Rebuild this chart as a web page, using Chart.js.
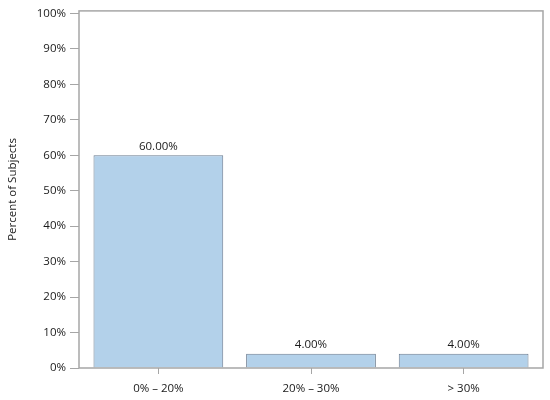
<!DOCTYPE html>
<html>
<head>
<meta charset="utf-8">
<script src="https://cdn.jsdelivr.net/npm/chart.js@4"></script>
<style>
  html, body { margin: 0; padding: 0; background: #fff; }
  #wrap { width: 550px; height: 400px; }
</style>
</head>
<body>
<div id="wrap"><canvas id="chart" width="550" height="400"></canvas></div>
<script>
// ---- data ----
const categories = ["0% \u2013 20%", "20% \u2013 30%", "> 30%"];
const percentValues = [60, 4, 4];
const yTicks = [0, 10, 20, 30, 40, 50, 60, 70, 80, 90, 100];

const FONT = "'Open Sans', 'Noto Sans', sans-serif";
const AXIS_GRAY = "#a6a6a6";
const TEXT = "#1a1a1a";

// box around plot area + value labels above bars
const boxAndLabels = {
    id: "boxAndLabels",
    afterDatasetsDraw(chart) {
        const ctx = chart.ctx;
        const a = chart.chartArea;
        ctx.save();
        ctx.strokeStyle = AXIS_GRAY;
        ctx.lineWidth = 1.5;
        ctx.strokeRect(a.left, a.top, a.right - a.left, a.bottom - a.top);

        ctx.fillStyle = TEXT;
        ctx.font = "11.5px " + FONT;
        ctx.textAlign = "center";
        ctx.textBaseline = "bottom";
        chart.getDatasetMeta(0).data.forEach((bar, i) => {
            ctx.fillText(percentValues[i].toFixed(2) + "%", bar.x, bar.y - 3);
        });
        ctx.restore();
    }
};

new Chart(document.getElementById("chart"), {
    type: "bar",
    data: {
        datasets: [{
            data: percentValues.map((v, i) => ({ x: i, y: v })),
            backgroundColor: "#b3d1ea",
            borderColor: "#6b7c90",
            borderWidth: 1,
            categoryPercentage: 0.85,
            barPercentage: 1.0
        }]
    },
    options: {
        responsive: false,
        animation: false,
        layout: { padding: { left: 0, right: 7, top: 10, bottom: 0 } },
        plugins: {
            legend: { display: false },
            tooltip: { enabled: false }
        },
        scales: {
            x: {
                type: "linear",
                offset: false,
                min: -0.52,
                max: 2.52,
                afterBuildTicks(scale) {
                    scale.ticks = categories.map((c, i) => ({ value: i }));
                },
                grid: {
                    drawOnChartArea: false,
                    offset: false,
                    tickLength: 6,
                    color: AXIS_GRAY
                },
                border: { display: false },
                ticks: {
                    color: TEXT,
                    font: { family: FONT, size: 11.5 },
                    padding: 8,
                    callback: v => categories[v]
                },
                afterFit(scale) { scale.height = 32; }
            },
            y: {
                min: 0,
                max: 100.7,
                afterBuildTicks(scale) {
                    scale.ticks = yTicks.map(v => ({ value: v }));
                },
                grid: {
                    drawOnChartArea: false,
                    tickLength: 9,
                    color: AXIS_GRAY
                },
                border: { display: false },
                ticks: {
                    color: TEXT,
                    font: { family: FONT, size: 11.5 },
                    padding: 4,
                    callback: v => v + "%"
                },
                title: {
                    display: true,
                    text: "Percent of Subjects",
                    color: TEXT,
                    font: { family: FONT, size: 11.5 },
                    padding: { top: 6, bottom: 0 }
                },
                afterFit(scale) { scale.width = 79; }
            }
        }
    },
    plugins: [boxAndLabels]
});
</script>
</body>
</html>
